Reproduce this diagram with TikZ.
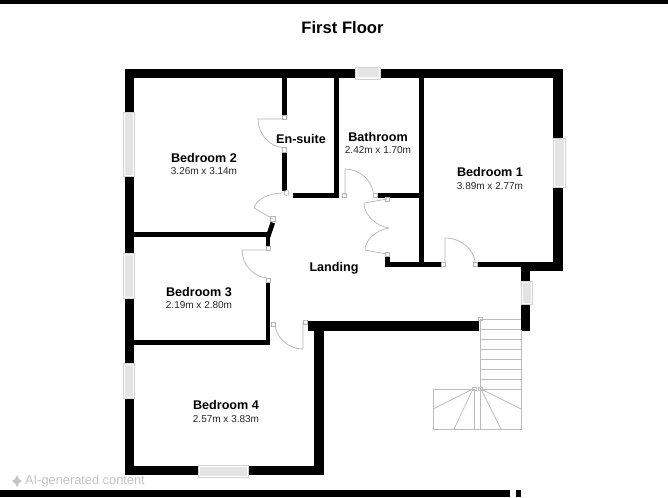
\documentclass[tikz,border=0pt]{standalone}
\usepackage{fontspec}
\setmainfont{Liberation Sans}
\definecolor{winfill}{HTML}{E4E4E4}
\definecolor{winedge}{HTML}{D2D2D2}
\definecolor{stairline}{HTML}{BBBBBB}
\definecolor{doorline}{HTML}{B4B4B4}
\definecolor{footgray}{HTML}{C4C4C4}
\tikzset{
  wall/.style={fill=black,draw=none},
  winframe/.style={fill=white,draw=winedge,line width=.7pt},
  winpane/.style={fill=winfill,draw=none},
  post/.style={fill=white,draw=doorline,line width=.5pt},
  door/.style={draw=doorline,line width=.7pt},
  stairs/.style={draw=stairline,line width=.7pt},
  roomname/.style={font=\bfseries\fontsize{12.6}{14}\selectfont,inner sep=0pt},
  roomsize/.style={font=\fontsize{10}{12}\selectfont,inner sep=0pt,text=black!85},
}
\begin{document}
\begin{tikzpicture}[x=1pt,y=-1pt]
\useasboundingbox[fill=white] (0,0) rectangle (668,497);
% screen strips
\fill[black] (0,0) rectangle (668,4);
\fill[black] (0,489.5) rectangle (510,497);
\fill[black] (516,489.5) rectangle (521,497);
% outer walls
\fill[wall] (125,69) rectangle (563,78);
\fill[wall] (125,69) rectangle (134,475);
\fill[wall] (553,69) rectangle (563,271);
\fill[wall] (521,262) rectangle (563,271);
\fill[wall] (521,262) rectangle (530,330.5);
\fill[wall] (125,466) rectangle (324,475);
\fill[wall] (314,321) rectangle (324,475);
\fill[wall] (308,321) rectangle (479,330.5);
% inner walls
\fill[wall] (478,262) rectangle (521,267);
\fill[wall] (419,78) rectangle (424,267);
\fill[wall] (420,262) rectangle (441,267);
\fill[wall] (385,262) rectangle (420,267);
\fill[wall] (385,257) rectangle (389.5,267);
\fill[wall] (377,193) rectangle (424,198);
\fill[wall] (334,78) rectangle (339,198);
\fill[wall] (293,193) rectangle (339,198);
\fill[wall] (282,78) rectangle (287,115);
\fill[wall] (282,152) rectangle (287,191);
\fill[wall] (134,232) rectangle (270,237);
\fill[wall] (266,232) rectangle (270,246);
\fill[wall] (265.5,237) -- (270.5,222) -- (275,223.5) -- (270,238) -- cycle;
\fill[wall] (266,282) rectangle (270,345);
\fill[wall] (134,340) rectangle (270,345);
% windows
\foreach \xa/\ya/\xb/\yb in {355/67/380/79, 198/465/248/477, 123.5/112/134/176, 123.5/253/134/298, 123.5/363/134/398, 553/138/565/187, 521/281/532/304}{
  \draw[winframe] (\xa,\ya) rectangle (\xb,\yb);
  \fill[winpane] (\xa+1.5,\ya+1.5) rectangle (\xb-1.5,\yb-1.5);
}
% door posts
\foreach \xa/\ya in {282/115, 282/147.5, 266/246, 266/278, 271/322, 303/320, 342/193, 373/193, 385/197, 385/252, 441/262, 473/262, 270.5/216.5}{
  \draw[post] (\xa,\ya) rectangle (\xa+4.5,\ya+4.5);
}
\node[circle,draw=doorline,fill=white,line width=.7pt,minimum size=5pt,inner sep=0pt] (pivot) at (286.5,193) {};
% doors
\draw[door] (284,119) -- (258,119) .. controls (258,134) and (270,147) .. (283,147.5);
\draw[door] (273,219) -- (254,208) .. controls (256,200) and (268,193) .. (283,193);
\draw[door] (268,250) -- (242,250) .. controls (242,265) and (254,277) .. (267,278);
\draw[door] (303,322) -- (303,349) .. controls (288,349) and (275,337) .. (275,323);
\draw[door] (345,195) -- (345,169) .. controls (360,169) and (373,181) .. (373.5,195);
\draw[door] (387,199) -- (364,203) .. controls (364,215) and (376,226) .. (389,228);
\draw[door] (386,254) -- (365,250) .. controls (365,240) and (376,230) .. (389,228);
\draw[door] (445,262) -- (445,238) .. controls (461,238) and (475,250) .. (475,263);
% stairs
\foreach \y in {319,329,339,349,359,369,379,389}{
  \draw[stairs] (480,\y) -- (521,\y);
}
\draw[stairs] (521,330) -- (521,429) -- (433,429) -- (433,389) -- (474,389);
\draw[stairs] (480,319) -- (480,429);
\draw[stairs] (474,389) -- (474,429);
\draw[stairs] (473,389) -- (433,409);
\draw[stairs] (473,389) -- (454,429);
\draw[stairs] (481,389) -- (501,429);
\draw[stairs] (481,389) -- (521,409);
\draw[stairs] (472.5,387) rectangle (476,390.5);
\draw[stairs] (478.5,387) rectangle (482,390.5);
\draw[stairs] (478.5,317) rectangle (482,320);
% labels
\node[inner sep=0pt,font=\bfseries\fontsize{16.6}{18}\selectfont] (title) at (342.5,27.5) {First Floor};
\node[roomname] (b2) at (204,158) {Bedroom 2};
\node[roomsize] (b2s) at (204,171) {3.26m x 3.14m};
\node[roomname] (es) at (301,139) {En-suite};
\node[roomname] (ba) at (378,137) {Bathroom};
\node[roomsize] (bas) at (378,150.5) {2.42m x 1.70m};
\node[roomname] (b1) at (490,172) {Bedroom 1};
\node[roomsize] (b1s) at (490,186) {3.89m x 2.77m};
\node[roomname] (la) at (334,268) {Landing};
\node[roomname] (b3) at (199,292) {Bedroom 3};
\node[roomsize] (b3s) at (199,305.5) {2.19m x 2.80m};
\node[roomname] (b4) at (226,405) {Bedroom 4};
\node[roomsize] (b4s) at (226,419) {2.57m x 3.83m};
% footer
\fill[footgray] (17,475) -- (19,479) -- (22,481) -- (19,483) -- (17,487) -- (15,483) -- (12,481) -- (15,479) -- cycle;
\node[inner sep=0pt,anchor=west,text=footgray,font=\fontsize{12.8}{14}\selectfont] (foot) at (25,481.5) {AI-generated content};
\end{tikzpicture}
\end{document}
